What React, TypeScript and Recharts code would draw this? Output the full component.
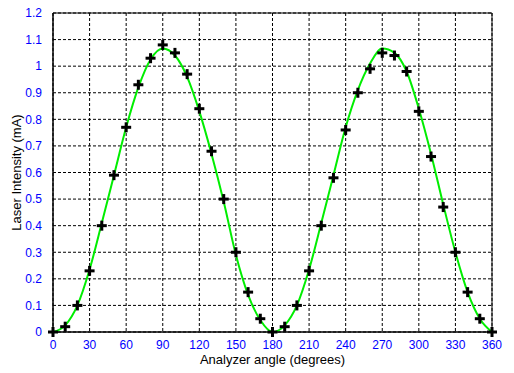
import React from 'react';
import { ComposedChart, Line, Scatter, XAxis, YAxis, CartesianGrid, ReferenceArea } from 'recharts';

const angles = [0, 10, 20, 30, 40, 50, 60, 70, 80, 90, 100, 110, 120, 130, 140, 150, 160, 170, 180, 190, 200, 210, 220, 230, 240, 250, 260, 270, 280, 290, 300, 310, 320, 330, 340, 350, 360];
const measured = [0.0, 0.02, 0.1, 0.23, 0.4, 0.59, 0.77, 0.93, 1.03, 1.08, 1.05, 0.97, 0.84, 0.68, 0.5, 0.3, 0.15, 0.05, 0.0, 0.02, 0.1, 0.23, 0.4, 0.58, 0.76, 0.9, 0.99, 1.05, 1.04, 0.98, 0.83, 0.66, 0.47, 0.3, 0.15, 0.05, 0.0];
const fitted = [0.0, 0.025, 0.1, 0.235, 0.41, 0.59, 0.77, 0.92, 1.025, 1.066, 1.04, 0.96, 0.83, 0.67, 0.49, 0.29, 0.14, 0.045, 0.0, 0.025, 0.1, 0.235, 0.41, 0.59, 0.77, 0.91, 1.01, 1.066, 1.05, 0.98, 0.84, 0.67, 0.48, 0.3, 0.15, 0.05, 0.0];
const xTicks = [0, 30, 60, 90, 120, 150, 180, 210, 240, 270, 300, 330, 360];
const yTicks = [0, 0.1, 0.2, 0.3, 0.4, 0.5, 0.6, 0.7, 0.8, 0.9, 1, 1.1, 1.2];

const pointData = angles.map((a, i) => ({ x: a, y: measured[i] }));
const fitData = angles.map((a, i) => ({ x: a, y: fitted[i] }));

const Plus = (props: any) => {
  const { cx, cy } = props;
  if (cx == null || cy == null) return null;
  return (
    <g>
      <rect x={cx - 5} y={cy - 1.5} width={10} height={3} fill="#000" />
      <rect x={cx - 1.5} y={cy - 5} width={3} height={10} fill="#000" />
    </g>
  );
};

const font = '"Liberation Sans", Arial, sans-serif';

export default function App() {
  return (
    <div style={{ position: 'absolute', left: 0, top: 0, width: 514, height: 373, background: '#fff' }}>
      <ComposedChart width={514} height={373} margin={{ top: 13, right: 22, bottom: 0, left: 8 }}>
        <CartesianGrid stroke="#000" strokeDasharray="3 2" strokeWidth={1} />
        <XAxis
          type="number"
          dataKey="x"
          domain={[0, 360]}
          ticks={xTicks}
          tickLine={false}
          axisLine={{ stroke: '#000' }}
          tick={{ fill: '#0000ff', fontSize: 12, fontFamily: font }}
          height={41}
          tickMargin={2}
          allowDuplicatedCategory={false}
          label={{ value: 'Analyzer angle (degrees)', position: 'insideBottom', offset: 9, fill: '#000', fontSize: 13, fontFamily: font }}
        />
        <YAxis
          type="number"
          dataKey="y"
          domain={[0, 1.2]}
          ticks={yTicks}
          tickLine={false}
          axisLine={{ stroke: '#000' }}
          tick={{ fill: '#0000ff', fontSize: 12, fontFamily: font }}
          width={45}
          tickMargin={5}
          label={{ value: 'Laser Intensity (mA)', angle: -90, position: 'insideLeft', offset: 8, fill: '#000', fontSize: 13, fontFamily: font, style: { textAnchor: 'middle' } }}
        />
        <ReferenceArea x1={0} x2={360} y1={0} y2={1.2} fill="none" stroke="#000" strokeWidth={1} fillOpacity={0} />
        <Line data={fitData} dataKey="y" type="monotone" stroke="#00ee00" strokeWidth={2} dot={false} isAnimationActive={false} />
        <Scatter data={pointData} dataKey="y" shape={<Plus />} isAnimationActive={false} />
      </ComposedChart>
    </div>
  );
}
